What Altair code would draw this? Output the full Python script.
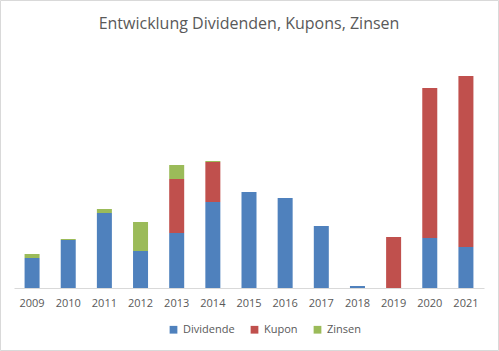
import altair as alt
import pandas as pd

years = ["2009", "2010", "2011", "2012", "2013", "2014", "2015",
         "2016", "2017", "2018", "2019", "2020", "2021"]
dividende = [30, 48, 75, 37, 55, 86, 96, 90, 62, 2, 0, 50, 41]
kupon = [0, 0, 0, 0, 54, 40, 0, 0, 0, 0, 51, 150, 171]
zinsen = [4, 1, 4, 29, 14, 1, 0, 0, 0, 0, 0, 0, 0]

series = ["Dividende", "Kupon", "Zinsen"]
colors = ["#4F81BD", "#C0504D", "#9BBB59"]

rows = []
for name, vals in zip(series, [dividende, kupon, zinsen]):
    for y, v in zip(years, vals):
        rows.append({"Jahr": y, "Serie": name, "Wert": v, "ord": series.index(name)})
df = pd.DataFrame(rows)

FONT = "Open Sans"
GREY = "#595959"

bars = alt.Chart(df).mark_bar().encode(
    x=alt.X("Jahr:N", sort=years, title=None,
            scale=alt.Scale(paddingInner=0.585, paddingOuter=0.2925),
            axis=alt.Axis(labelAngle=0, ticks=False, domainColor="#d9d9d9",
                          labelColor=GREY, labelFont=FONT, labelFontSize=11,
                          labelPadding=9)),
    y=alt.Y("Wert:Q", stack="zero", axis=None,
            scale=alt.Scale(domain=[0, 233], nice=False, zero=True)),
    color=alt.Color("Serie:N", sort=series,
                    scale=alt.Scale(domain=series, range=colors),
                    legend=alt.Legend(title=None, orient="none", direction="horizontal",
                                      legendX=154, legendY=269,
                                      symbolType="square", symbolSize=60,
                                      labelFont=FONT, labelFontSize=11, labelColor=GREY,
                                      columnPadding=14, symbolStrokeWidth=0)),
    order=alt.Order("ord:Q", sort="ascending"),
)

border = alt.Chart(pd.DataFrame({"a": [0]})).mark_rect(
    fill=None, stroke="#d9d9d9", strokeWidth=1
).encode(
    x=alt.value(-13.5), x2=alt.value(484.5), y=alt.value(-54.5), y2=alt.value(295.5)
)

chart = alt.layer(bars, border).properties(
    width=470,
    height=233,
    background="white",
    title=alt.TitleParams("Entwicklung Dividenden, Kupons, Zinsen", font=FONT,
                          fontSize=16, fontWeight="normal", color=GREY,
                          anchor="middle", offset=-32),
    autosize=alt.AutoSizeParams(type="none"),
    padding={"left": 14, "top": 55, "right": 15, "bottom": 63},
).configure_view(strokeWidth=0, stroke=None)

chart.save("out.html", embed_options={"renderer": "svg", "actions": False})
